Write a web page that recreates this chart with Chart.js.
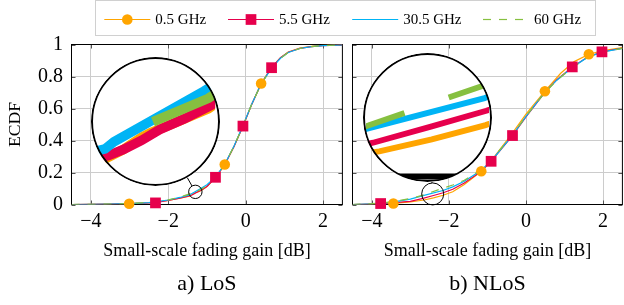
<!DOCTYPE html>
<html lang="en">
<head>
<meta charset="UTF-8">
<title>ECDF of the small-scale fading gain</title>
<script src="https://cdn.jsdelivr.net/npm/chart.js"></script>
<style>
    html, body { margin: 0; padding: 0; background: #fff; overflow: hidden; }
    body { position: relative; width: 624px; height: 305px; font-family: 'Liberation Serif', serif; }
    canvas { position: absolute; top: 0; }
    .spy { border-radius: 50%; background: #fff; }
    #legend { position: absolute; left: 95px; top: 0; width: 501px; height: 36px; box-sizing: border-box; border: 1px solid #d0d0d0; background: #fff; }
    #legendKeys { position: absolute; left: 0; top: 0; }
    .label { position: absolute; top: 8.5px; font-size: 15px; line-height: 18px; white-space: nowrap; color: #000; }
</style>
</head>
<body>
<canvas id="los" width="350" height="305" style="left:0"></canvas>
<canvas id="nlos" width="290" height="305" style="left:340px"></canvas>
<canvas id="losSpy" class="spy"></canvas>
<canvas id="nlosSpy" class="spy"></canvas>
<div id="legend"><canvas id="legendKeys" width="499" height="34"></canvas></div>
<script>
const seriesNames = ['0.5 GHz', '5.5 GHz', '30.5 GHz', '60 GHz'];
const colors = ['#ffa500', '#e6004c', '#00b4f5', '#86c040'];

const xTicks = [-4, -2, 0, 2];
const xTickLabels = ['\u22124', '\u22122', '0', '2'];
const yTicks = [0, 0.2, 0.4, 0.6, 0.8, 1];
const yTickLabels = ['0', '0.2', '0.4', '0.6', '0.8', '1'];
const xTitle = 'Small-scale fading gain [dB]';
const yTitle = 'ECDF';
const captions = ['a) LoS', 'b) NLoS'];

// LoS: [gain dB, ECDF]
const los05 = [[-4.5,0],[-4.0,0.001],[-3.5,0.003],[-3.0,0.005],[-2.5,0.011],[-2.0,0.026],[-1.7,0.040],[-1.45,0.0523],[-1.393,0.0594],[-1.34,0.068],[-1.314,0.0712],[-1.25,0.0774],[-1.147,0.088],[-1.0,0.112],[-0.78,0.166],[-0.54,0.25],[-0.3,0.362],[-0.07,0.488],[0.15,0.622],[0.40,0.756],[0.67,0.857],[0.9,0.918],[1.1,0.953],[1.4,0.977],[1.7,0.988],[2.0,0.994],[2.5,0.998]];
const los55 = [[-4.5,0],[-4.0,0.001],[-3.5,0.003],[-3.0,0.006],[-2.33,0.011],[-2.0,0.026],[-1.7,0.040],[-1.437,0.0551],[-1.393,0.0594],[-1.34,0.0658],[-1.288,0.0733],[-1.217,0.0809],[-1.138,0.0905],[-1.0,0.113],[-0.78,0.168],[-0.54,0.249],[-0.3,0.363],[-0.07,0.49],[0.15,0.622],[0.40,0.755],[0.67,0.855],[0.9,0.917],[1.1,0.952],[1.4,0.976],[1.7,0.987],[2.0,0.993],[2.5,0.998]];
const los305 = [[-4.5,0],[-4.0,0.001],[-3.5,0.003],[-3.0,0.006],[-2.5,0.012],[-2.0,0.028],[-1.7,0.044],[-1.446,0.0598],[-1.42,0.0648],[-1.16,0.1002],[-1.0,0.124],[-0.78,0.172],[-0.54,0.252],[-0.3,0.366],[-0.07,0.492],[0.15,0.624],[0.40,0.754],[0.67,0.852],[0.9,0.914],[1.1,0.95],[1.4,0.975],[1.7,0.987],[2.0,0.993],[2.5,0.998]];
const los60 = [[-4.5,0],[-4.0,0.001],[-3.5,0.003],[-3.0,0.006],[-2.5,0.013],[-2.0,0.029],[-1.7,0.046],[-1.336,0.0759],[-1.147,0.0952],[-1.0,0.119],[-0.78,0.171],[-0.54,0.251],[-0.3,0.365],[-0.07,0.491],[0.15,0.623],[0.40,0.753],[0.67,0.851],[0.9,0.913],[1.1,0.95],[1.4,0.975],[1.7,0.987],[2.0,0.993],[2.5,0.998]];
const losMarks05 = [[-3.01,0.005],[-0.54,0.25],[0.40,0.756]];
const losMarks55 = [[-2.33,0.01],[-0.78,0.17],[-0.07,0.49],[0.67,0.855]];

// NLoS
const nlos05 = [[-4.5,0],[-4.0,0.002],[-3.44,0.007],[-3.0,0.016],[-2.644,0.0282],[-2.4,0.0415],[-2.15,0.0575],[-1.9,0.08],[-1.6,0.125],[-1.16,0.208],[-0.8,0.305],[-0.4,0.43],[0.0,0.565],[0.49,0.708],[0.9,0.82],[1.25,0.893],[1.63,0.939],[2.0,0.962],[2.5,0.98]];
const nlos55 = [[-4.5,0],[-4.0,0.003],[-3.77,0.005],[-3.0,0.02],[-2.673,0.0378],[-2.4,0.056],[-2.147,0.0735],[-1.9,0.095],[-1.6,0.135],[-1.16,0.207],[-0.905,0.27],[-0.35,0.431],[0.0,0.548],[0.49,0.70],[0.8,0.78],[1.2,0.86],[1.6,0.922],[1.97,0.954],[2.5,0.977]];
const nlos305 = [[-4.5,0],[-4.0,0.004],[-3.5,0.013],[-3.0,0.034],[-2.695,0.0538],[-2.155,0.0877],[-1.9,0.11],[-1.6,0.145],[-1.16,0.214],[-0.9,0.272],[-0.35,0.433],[0.0,0.551],[0.49,0.702],[0.8,0.777],[1.2,0.856],[1.6,0.921],[2.0,0.954],[2.5,0.976]];
const nlos60 = [[-4.5,0],[-4.0,0.005],[-3.5,0.016],[-3.0,0.037],[-2.695,0.057],[-2.179,0.1002],[-1.9,0.122],[-1.6,0.152],[-1.16,0.219],[-0.9,0.278],[-0.35,0.436],[0.0,0.552],[0.49,0.70],[0.8,0.776],[1.2,0.855],[1.6,0.92],[2.0,0.953],[2.5,0.976]];
const nlosMarks05 = [[-3.44,0.006],[-1.16,0.208],[0.49,0.708],[1.63,0.939]];
const nlosMarks55 = [[-3.77,0.006],[-0.905,0.27],[-0.35,0.431],[1.20,0.86],[1.97,0.954]];

const FONT = "'Liberation Serif', 'Times New Roman', serif";
const DASH = 8;
const LINE_W = 1.2;

// legend: keys on a small canvas, names as text
const legendOffsets = [8.3, 132, 256.2, 387];
const legend = document.getElementById('legend');
const kctx = document.getElementById('legendKeys').getContext('2d');
seriesNames.forEach((name, i) => {
    const x0 = legendOffsets[i], yk = 18.5;
    kctx.save();
    kctx.strokeStyle = colors[i];
    kctx.lineWidth = LINE_W;
    kctx.setLineDash(i === 3 ? [DASH, DASH] : []);
    kctx.beginPath();
    kctx.moveTo(x0, yk); kctx.lineTo(x0 + 46, yk);
    kctx.stroke();
    kctx.fillStyle = colors[i];
    if (i === 0) { kctx.beginPath(); kctx.arc(x0 + 23, yk, 5.3, 0, 2 * Math.PI); kctx.fill(); }
    if (i === 1) kctx.fillRect(x0 + 23 - 5.35, yk - 5.35, 10.7, 10.7);
    kctx.restore();
    const s = document.createElement('span');
    s.className = 'label';
    s.style.left = (x0 + 51) + 'px';
    s.textContent = name;
    legend.appendChild(s);
});

function lineSets(curves, width, dashScale) {
    return curves.map((pts, i) => ({
        data: pts.map(p => ({ x: p[0], y: p[1] })),
        borderColor: colors[i],
        borderWidth: width,
        borderDash: i === 3 ? [DASH * dashScale, DASH * dashScale] : [],
        pointRadius: 0,
        tension: 0,
        fill: false,
        order: 10 - i
    }));
}

function markSets(m05, m55) {
    return [
        { data: m05.map(p => ({ x: p[0], y: p[1] })), showLine: false, pointStyle: 'circle', pointRadius: 5.3,
          pointBackgroundColor: colors[0], borderColor: colors[0], pointBorderWidth: 0, order: 1, clip: false },
        { data: m55.map(p => ({ x: p[0], y: p[1] })), showLine: false, pointStyle: 'rect', pointRadius: 7.6,
          pointBackgroundColor: colors[1], borderColor: colors[1], pointBorderWidth: 0, order: 0, clip: false }
    ];
}

// axis box with small inner ticks, drawn under the curves
const framePlugin = {
    id: 'frame',
    beforeDatasetsDraw(chart) {
        const { ctx, chartArea: a, scales: { x, y } } = chart;
        ctx.save();
        ctx.lineWidth = 1;
        ctx.strokeStyle = '#555';
        ctx.beginPath();
        xTicks.forEach(v => {
            const px = Math.round(x.getPixelForValue(v)) + 0.5;
            ctx.moveTo(px, a.top); ctx.lineTo(px, a.top + 4);
            ctx.moveTo(px, a.bottom); ctx.lineTo(px, a.bottom - 4);
        });
        yTicks.forEach(v => {
            const py = Math.round(y.getPixelForValue(v)) + 0.5;
            ctx.moveTo(a.left, py); ctx.lineTo(a.left + 4, py);
            ctx.moveTo(a.right, py); ctx.lineTo(a.right - 4, py);
        });
        ctx.stroke();
        ctx.strokeStyle = '#000';
        ctx.strokeRect(a.left, a.top, a.right - a.left, a.bottom - a.top);
        ctx.restore();
    }
};

// small spy circle + connector to the magnifier
const spyMarkPlugin = {
    id: 'spyMark',
    afterDatasetsDraw(chart, args, o) {
        const { ctx, scales: { x, y } } = chart;
        const sx = x.getPixelForValue(o.x), sy = y.getPixelForValue(o.y);
        const bx = o.cx - o.left, by = o.cy;
        const R = o.r * o.mag;
        const dx = sx - bx, dy = sy - by, d = Math.hypot(dx, dy);
        ctx.save();
        ctx.strokeStyle = '#000';
        ctx.lineWidth = 1;
        if (d > R + o.r) {
            ctx.beginPath();
            ctx.moveTo(bx + dx * R / d, by + dy * R / d);
            ctx.lineTo(sx - dx * o.r / d, sy - dy * o.r / d);
            ctx.stroke();
        }
        ctx.beginPath();
        ctx.arc(sx, sy, o.r, 0, 2 * Math.PI);
        ctx.stroke();
        ctx.restore();
    }
};

// magnifier: magnified bottom axis line + outline
const spyViewPlugin = {
    id: 'spyView',
    beforeDatasetsDraw(chart, args, o) {
        const { ctx, chartArea: a, scales: { y } } = chart;
        const y0 = y.getPixelForValue(0);
        ctx.save();
        ctx.strokeStyle = '#000';
        ctx.lineWidth = o.mag;
        ctx.beginPath();
        ctx.moveTo(a.left, y0); ctx.lineTo(a.right, y0);
        ctx.stroke();
        ctx.restore();
    },
    afterDraw(chart) {
        const { ctx, width } = chart;
        ctx.save();
        ctx.strokeStyle = '#000';
        ctx.lineWidth = 2;
        ctx.beginPath();
        ctx.arc(width / 2, width / 2, width / 2 - 1, 0, 2 * Math.PI);
        ctx.stroke();
        ctx.restore();
    }
};

function mainChart(id, curves, m05, m55, p) {
    return new Chart(document.getElementById(id), {
        type: 'line',
        data: { datasets: lineSets(curves, LINE_W, 1).concat(markSets(m05, m55)) },
        options: {
            responsive: false,
            animation: false,
            events: [],
            layout: { padding: { top: 44.5, right: p.padRight, left: 0, bottom: 0 } },
            plugins: {
                legend: { display: false },
                tooltip: { enabled: false },
                title: {
                    display: true, position: 'bottom', fullSize: false, text: p.caption, color: '#000',
                    font: { family: FONT, size: 22, weight: 'normal', lineHeight: 1.2 },
                    padding: { top: 10.8, bottom: 7.6 }
                },
                spyMark: p.spy
            },
            scales: {
                x: {
                    type: 'linear', min: -4.5, max: 2.5,
                    afterBuildTicks: s => { s.ticks = xTicks.map(v => ({ value: v })); },
                    afterFit: s => { s.height = 55.7; },
                    ticks: {
                        autoSkip: false, maxRotation: 0, padding: 5, color: '#000',
                        font: { family: FONT, size: 20 },
                        callback: v => xTickLabels[xTicks.indexOf(v)]
                    },
                    grid: { color: '#cccccc', drawTicks: false },
                    border: { display: false },
                    title: {
                        display: true, text: xTitle, color: '#000',
                        font: { family: FONT, size: 18, lineHeight: 1 }, padding: { top: 0, bottom: 0 }
                    }
                },
                y: {
                    type: 'linear', min: 0, max: 1,
                    afterBuildTicks: s => { s.ticks = yTicks.map(v => ({ value: v })); },
                    afterFit: s => { s.width = p.yWidth; },
                    ticks: {
                        display: p.showY, padding: 8.4, color: '#000',
                        font: { family: FONT, size: 20 },
                        callback: v => yTickLabels[yTicks.indexOf(v)]
                    },
                    grid: { color: '#cccccc', drawTicks: false },
                    border: { display: false },
                    title: {
                        display: p.showY, text: yTitle, color: '#000',
                        font: { family: FONT, size: 17.6, lineHeight: 1 }, padding: { top: 7, bottom: 0 }
                    }
                }
            }
        },
        plugins: [framePlugin, spyMarkPlugin]
    });
}

// shift the dash phase so that a dash starts at gain value atX
function alignDash(chart, ds, atX, period) {
    const pts = chart.getDatasetMeta(ds).data;
    const data = chart.data.datasets[ds].data;
    const xmin = chart.scales.x.min;
    let start = 0;
    for (let i = 0; i < data.length; i++) if (data[i].x < xmin) start = i;
    let len = 0;
    for (let i = start; i < pts.length - 1; i++) {
        const seg = Math.hypot(pts[i + 1].x - pts[i].x, pts[i + 1].y - pts[i].y);
        if (data[i + 1].x >= atX) { len += seg * (atX - data[i].x) / (data[i + 1].x - data[i].x); break; }
        len += seg;
    }
    chart.data.datasets[ds].borderDashOffset = (period - (len % period)) % period;
    chart.update('none');
}

function spyChart(id, main, curves, s) {
    const el = document.getElementById(id);
    const ux = main.scales.x.getPixelForValue(1) - main.scales.x.getPixelForValue(0);
    const uy = main.scales.y.getPixelForValue(0) - main.scales.y.getPixelForValue(1);
    const D = Math.round(2 * s.r * s.mag);
    el.width = D; el.height = D;
    el.style.left = (s.cx - D / 2) + 'px';
    el.style.top = (s.cy - D / 2) + 'px';
    const hx = D / 2 / (ux * s.mag), hy = D / 2 / (uy * s.mag);
    const c = new Chart(el, {
        type: 'line',
        data: { datasets: lineSets(curves, s.mag, s.mag) },
        options: {
            responsive: false, animation: false, events: [],
            layout: { padding: 0 },
            plugins: { legend: { display: false }, tooltip: { enabled: false }, spyView: { mag: s.mag } },
            scales: {
                x: { type: 'linear', display: false, min: s.x - hx, max: s.x + hx },
                y: { type: 'linear', display: false, min: s.y - hy, max: s.y + hy }
            }
        },
        plugins: [spyViewPlugin]
    });
    alignDash(c, 3, s.dashAt, 2 * DASH * s.mag);
    return c;
}

const losSpy = { x: -1.30, y: 0.079, r: 6.7, mag: 9.66, cx: 155.3, cy: 121.2, left: 0, dashAt: -1.336 };
const nlosSpy = { x: -2.42, y: 0.066, r: 11, mag: 5.85, cx: 427.8, cy: 117.5, left: 340, dashAt: -2.352 };

const losChart = mainChart('los', [los05, los55, los305, los60], losMarks05, losMarks55,
    { caption: captions[0], padRight: 4.5, yWidth: 71.5, showY: true, spy: losSpy });
const nlosChart = mainChart('nlos', [nlos05, nlos55, nlos305, nlos60], nlosMarks05, nlosMarks55,
    { caption: captions[1], padRight: 3, yWidth: 12.5, showY: false, spy: nlosSpy });

spyChart('losSpy', losChart, [los05, los55, los305, los60], losSpy);
spyChart('nlosSpy', nlosChart, [nlos05, nlos55, nlos305, nlos60], nlosSpy);
</script>
</body>
</html>
